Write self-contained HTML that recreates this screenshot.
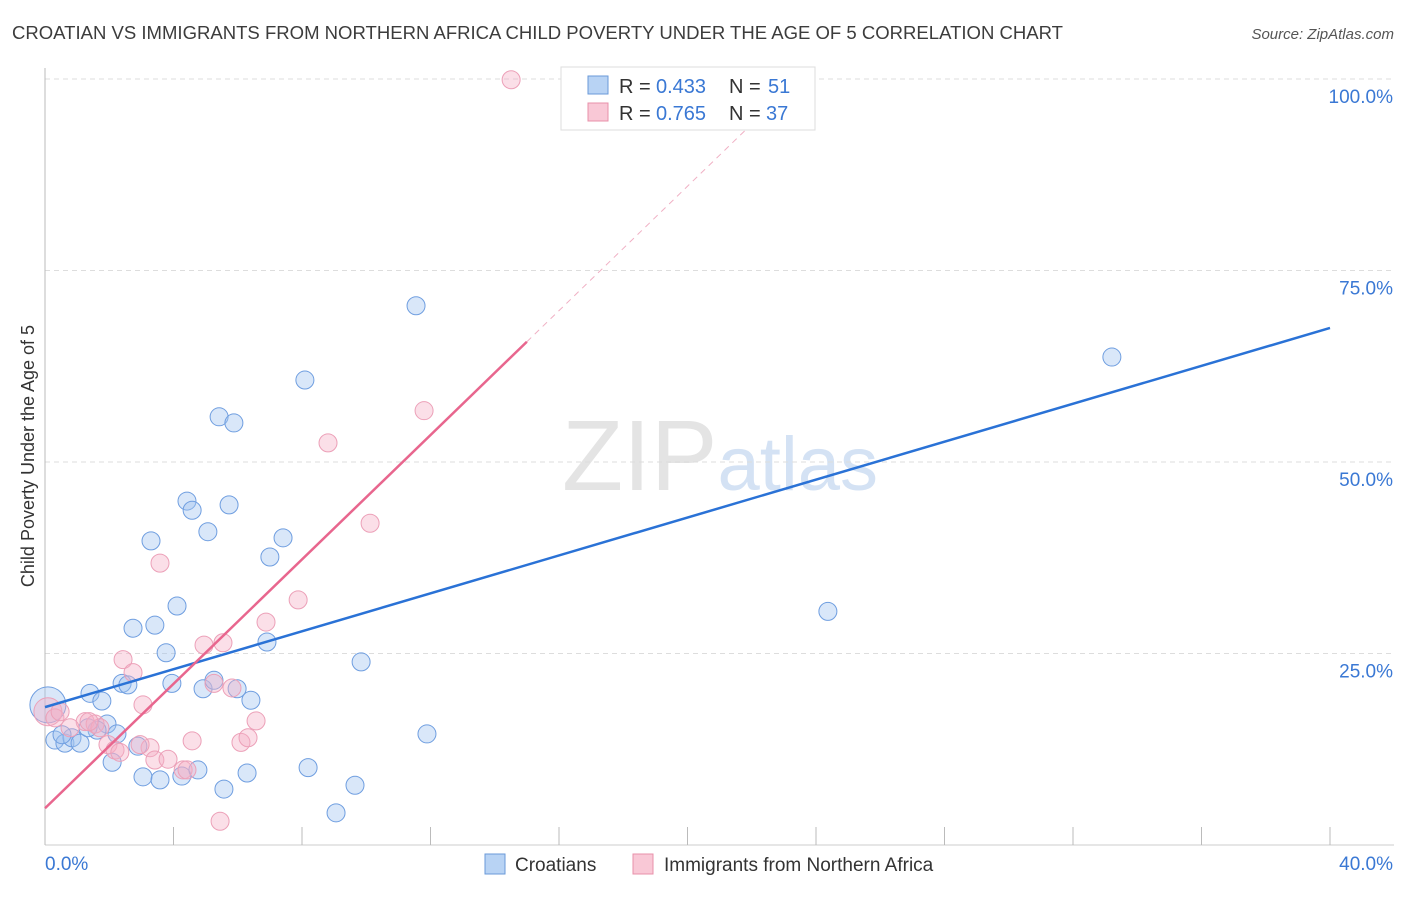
<!DOCTYPE html>
<html><head><meta charset="utf-8">
<style>
body{margin:0;background:#fff;font-family:"Liberation Sans",sans-serif;}
svg text{font-family:"Liberation Sans",sans-serif;}
</style></head>
<body>
<svg id="chart" width="1406" height="892" xmlns="http://www.w3.org/2000/svg">
<text x="12" y="39" font-size="18" fill="#3c3c3c" textLength="1051" lengthAdjust="spacingAndGlyphs">CROATIAN VS IMMIGRANTS FROM NORTHERN AFRICA CHILD POVERTY UNDER THE AGE OF 5 CORRELATION CHART</text>
<text x="1394" y="39" font-size="15" fill="#555" font-style="italic" text-anchor="end">Source: ZipAtlas.com</text>
<text x="720" y="490" font-size="100" fill="#e4e4e4" text-anchor="middle" font-family="Liberation Serif">ZIP<tspan fill="#d4e2f4" font-family="Liberation Sans" font-size="76">atlas</tspan></text>
<g id="grid"></g>
<g id="axes"></g>
<g id="pts"></g>
<g id="lines"></g>
<text transform="translate(34,456) rotate(-90)" font-size="18" fill="#333" text-anchor="middle">Child Poverty Under the Age of 5</text>
<g>
<rect x="561" y="67" width="254" height="63" fill="#fff" stroke="#ddd"/>
<rect x="588" y="76" width="20" height="18" fill="#b8d3f4" stroke="#6a9ad8"/>
<rect x="588" y="103" width="20" height="18" fill="#f9c8d6" stroke="#e890aa"/>
<text x="619" y="93" font-size="20" fill="#333">R =</text><text x="656" y="93" font-size="20" fill="#3a78d4">0.433</text>
<text x="729" y="93" font-size="20" fill="#333">N =</text><text x="768" y="93" font-size="20" fill="#3a78d4">51</text>
<text x="619" y="120" font-size="20" fill="#333">R =</text><text x="656" y="120" font-size="20" fill="#3a78d4">0.765</text>
<text x="729" y="120" font-size="20" fill="#333">N =</text><text x="766" y="120" font-size="20" fill="#3a78d4">37</text>
</g>
<g>
<rect x="485" y="854" width="20" height="20" fill="#b8d3f4" stroke="#6a9ad8"/>
<text x="515" y="871" font-size="19" fill="#333">Croatians</text>
<rect x="633" y="854" width="20" height="20" fill="#f9c8d6" stroke="#e890aa"/>
<text x="664" y="871" font-size="19" fill="#333">Immigrants from Northern Africa</text>
</g>
</svg>
<script>
const blueX=[0.09,0.31,0.62,0.84,1.09,0.53,1.40,1.77,1.93,1.62,2.24,2.09,2.40,2.58,2.74,2.89,3.05,3.30,3.42,3.58,3.77,3.95,4.11,4.26,4.42,4.58,4.76,4.92,5.07,5.26,5.42,5.57,5.73,5.88,5.98,6.29,6.41,6.91,7.00,7.41,8.09,8.19,9.06,9.65,9.84,11.55,11.89,24.37,33.21,1.34];
const blueY=[18.3,13.7,13.3,14.0,13.3,14.4,19.8,18.8,15.8,15.0,14.5,10.8,21.1,20.9,28.3,12.9,8.9,39.7,28.7,8.5,25.1,21.1,31.2,9.0,44.9,43.7,9.8,20.4,40.9,21.5,55.9,7.3,44.4,55.1,20.4,9.4,18.9,26.5,37.6,40.1,60.7,10.1,4.2,7.8,23.9,70.4,14.5,30.5,63.7,15.3];
const pinkX=[0.09,0.31,0.47,1.25,1.56,1.71,1.96,2.18,2.33,2.43,2.74,3.05,3.27,3.42,3.58,3.83,4.30,4.42,4.58,4.95,5.26,5.54,5.82,6.10,6.32,6.57,6.88,7.88,8.81,10.12,11.80,14.51,5.45,1.37,0.78,2.96];
const pinkY=[17.4,16.6,17.4,16.1,15.8,15.3,13.1,12.4,12.1,24.2,22.5,18.3,12.7,11.1,36.8,11.2,9.8,9.8,13.6,26.1,21.1,26.4,20.5,13.4,14.0,16.2,29.1,32.0,52.5,42.0,56.7,99.9,3.1,16.1,15.3,13.1];
const blueLine=[18.0,67.5];
const pinkLine=[4.8,4.06];
const xTicks=[0,4,8,12,16,20,24,28,32,36,40];
const yTicks=[25,50,75,100];
const NS="http://www.w3.org/2000/svg";
const sx=v=>45+v*32.125, sy=v=>845-v*7.66;
function mk(tag,attrs,parent){const e=document.createElementNS(NS,tag);for(const k in attrs)e.setAttribute(k,attrs[k]);parent.appendChild(e);return e;}
const grid=document.getElementById('grid'),axes=document.getElementById('axes'),pts=document.getElementById('pts'),lines=document.getElementById('lines');
yTicks.forEach(t=>{
 const l=mk('line',{x1:45,x2:1394,y1:sy(t),y2:sy(t),stroke:'#ddd','stroke-dasharray':'5,4'},grid);
 
 
 const tx=mk('text',{x:1393,y:sy(t)+24,'font-size':19,fill:'#3a78d4','text-anchor':'end'},axes);
 tx.textContent=t.toFixed(1)+'%';
 
 
});
mk('line',{x1:45,x2:45,y1:68,y2:845,stroke:'#bbb'},axes);
mk('line',{x1:45,x2:1394,y1:845,y2:845,stroke:'#ccc'},axes);
xTicks.forEach(t=>{
 const l=mk('line',{x1:sx(t),x2:sx(t),y1:827,y2:845,stroke:'#bbb'},axes);
 
 
});
const xl0=mk('text',{x:45,y:870,'font-size':19,fill:'#3a78d4'},axes);xl0.textContent='0.0%';


const xl1=mk('text',{x:1393,y:870,'font-size':19,fill:'#3a78d4','text-anchor':'end'},axes);xl1.textContent='40.0%';


blueX.forEach((x,i)=>{
 const c=mk('circle',{cx:sx(x),cy:sy(blueY[i]),r:i===0?18:9,fill:'rgba(160,196,240,0.4)',stroke:'#6f9ee0','stroke-width':1},pts);
 
 
});
pinkX.forEach((x,i)=>{
 const c=mk('circle',{cx:sx(x),cy:sy(pinkY[i]),r:i===0?14:9,fill:'rgba(245,175,198,0.4)',stroke:'#eca0b8','stroke-width':1},pts);
 
 
});
const bl=mk('line',{x1:sx(0),y1:sy(blueLine[0]),x2:sx(40),y2:sy(blueLine[1]),stroke:'#2a72d6','stroke-width':2.5},lines);


const pe=15, pd=21.9;
const pl=mk('line',{x1:sx(0),y1:sy(pinkLine[0]),x2:sx(pe),y2:sy(pinkLine[0]+pinkLine[1]*pe),stroke:'#e8668e','stroke-width':2.5},lines);


const pdl=mk('line',{x1:sx(pe),y1:sy(pinkLine[0]+pinkLine[1]*pe),x2:sx(pd),y2:sy(pinkLine[0]+pinkLine[1]*pd),stroke:'#f0b0c4','stroke-width':1,'stroke-dasharray':'6,5'},lines);


</script>
</body></html>
